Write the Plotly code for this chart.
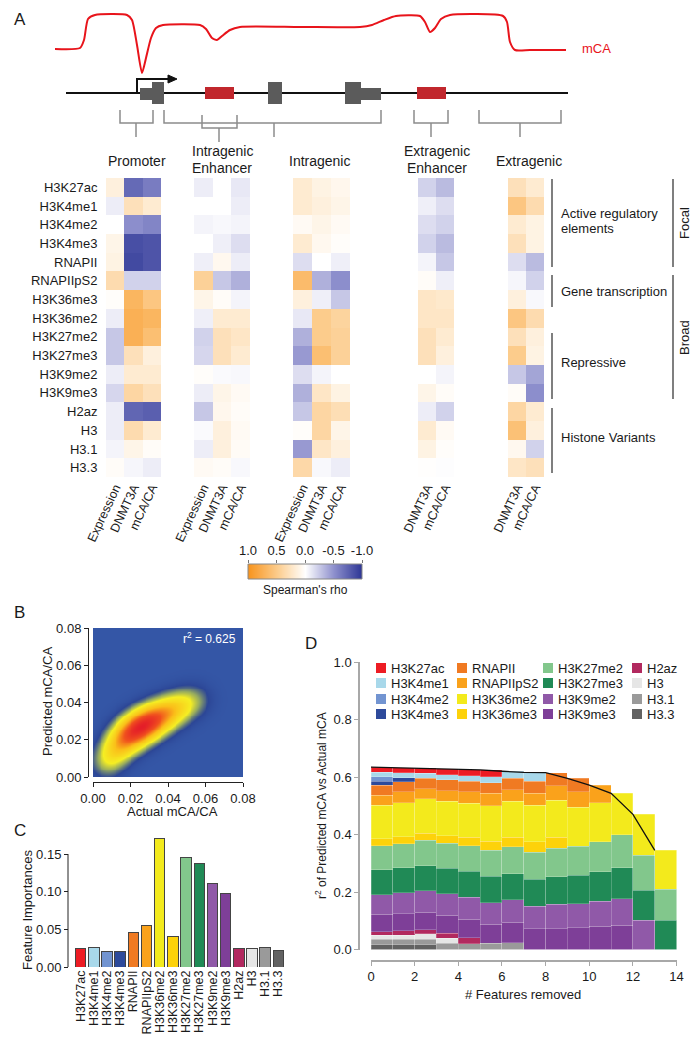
import numpy as np
import plotly.graph_objects as go

W, H = 700, 1050
FONT = "Arial, Liberation Sans, Helvetica, sans-serif"


def px(x):
    return x / W


def py(y):
    return 1 - y / H


# ---------------- Panel A : Spearman correlation heatmaps ----------------
rows_a = ["H3K27ac", "H3K4me1", "H3K4me2", "H3K4me3", "RNAPII", "RNAPIIpS2",
          "H3K36me3", "H3K36me2", "H3K27me2", "H3K27me3", "H3K9me2", "H3K9me3",
          "H2az", "H3", "H3.1", "H3.3"]
cols3 = ["Expression", "DNMT3A", "mCA/CA"]
cols2 = ["DNMT3A", "mCA/CA"]

prom_expression = [0.15, -0.08, 0.0, 0.1, 0.12, 0.35, 0.02, -0.08, -0.25, -0.25, -0.08, -0.18, -0.08, -0.08, -0.05, 0.03]
prom_dnmt3a = [-0.7, 0.3, -0.5, -0.85, -0.88, -0.2, 0.7, 0.75, 0.75, 0.3, 0.2, 0.4, -0.72, 0.35, 0.1, -0.04]
prom_mca = [-0.6, 0.2, -0.55, -0.82, -0.82, -0.2, 0.55, 0.7, 0.62, 0.15, 0.2, 0.3, -0.76, 0.2, 0.03, -0.08]

ienh_expression = [-0.08, 0.0, -0.05, 0.0, -0.07, 0.45, 0.1, -0.07, -0.2, -0.18, 0.02, -0.08, -0.25, -0.02, -0.08, 0.05]
ienh_dnmt3a = [0.0, 0.0, -0.03, -0.07, 0.07, -0.25, 0.03, 0.2, 0.3, 0.3, -0.02, 0.1, 0.08, 0.15, 0.15, 0.03]
ienh_mca = [-0.1, -0.08, -0.05, -0.15, -0.08, -0.35, -0.05, 0.2, 0.25, 0.2, -0.03, 0.05, 0.03, 0.05, 0.04, -0.03]

intra_expression = [0.2, 0.2, 0.05, 0.2, -0.15, 0.65, 0.15, -0.1, -0.35, -0.45, -0.15, -0.35, -0.25, 0.02, -0.45, 0.38]
intra_dnmt3a = [0.12, 0.15, 0.1, 0.07, 0.0, -0.35, -0.07, 0.5, 0.5, 0.62, -0.05, 0.25, 0.4, 0.4, 0.25, -0.03]
intra_mca = [0.08, 0.1, 0.05, 0.02, -0.07, -0.5, -0.25, 0.42, 0.45, 0.45, 0.0, 0.12, 0.32, 0.1, 0.15, -0.08]

eenh_dnmt3a = [-0.2, -0.07, -0.15, -0.2, -0.05, 0.03, 0.25, 0.25, 0.3, 0.3, 0.0, 0.1, -0.08, 0.2, 0.12, 0.01]
eenh_mca = [-0.3, -0.15, -0.2, -0.3, -0.25, -0.07, 0.22, 0.25, 0.2, 0.15, -0.05, 0.03, -0.2, 0.05, 0.02, -0.01]

extra_dnmt3a = [0.3, 0.55, 0.2, 0.3, -0.15, -0.04, 0.15, 0.55, 0.3, 0.5, -0.25, 0.03, 0.4, 0.6, 0.07, 0.25]
extra_mca = [0.2, 0.35, 0.12, 0.12, -0.3, -0.2, -0.03, 0.35, 0.15, 0.12, -0.4, -0.5, 0.2, 0.15, -0.2, 0.3]

cbar_ticks = [1.0, 0.5, 0.0, -0.5, -1.0]
cbar_text = ["1.0", "0.5", "0.0", "-0.5", "-1.0"]

# schematic (pixel space of the figure)
mca_x = [55, 80, 84, 88, 95, 127, 132, 137, 142, 146, 151, 156, 163, 200, 206, 212, 217, 222, 230, 240,
         300, 360, 372, 384, 396, 420, 425, 430, 435, 441, 450, 503, 507, 510, 515, 530, 566]
mca_y = [49, 48, 40, 19, 15, 15, 20, 45, 73, 58, 38, 28, 25, 25, 29, 38, 40, 36, 30, 27,
         27, 27, 25, 20, 16, 16, 22, 32, 28, 19, 15, 16, 22, 42, 50, 50, 50]

# ---------------- Panel B ----------------
ridge_x = [0.007, 0.012, 0.017, 0.022, 0.027, 0.032, 0.038, 0.044, 0.050, 0.056]
ridge_y = [0.008, 0.015, 0.021, 0.025, 0.028, 0.031, 0.034, 0.037, 0.040, 0.042]
ridge_w = [0.35, 0.6, 0.85, 1.0, 1.0, 0.9, 0.7, 0.5, 0.3, 0.15]
ridge_sigma = 0.0058
b_ticks = [0.0, 0.02, 0.04, 0.06, 0.08]

# ---------------- Panel C / D ----------------
features = ["H3K27ac", "H3K4me1", "H3K4me2", "H3K4me3", "RNAPII", "RNAPIIpS2", "H3K36me2", "H3K36me3",
            "H3K27me2", "H3K27me3", "H3K9me2", "H3K9me3", "H2az", "H3", "H3.1", "H3.3"]
feature_colors = ["#ED1C24", "#A8D8EA", "#7294D1", "#2D4A9B", "#F07A22", "#FAA21B", "#F3EA1C", "#FDD20A",
                  "#82C78C", "#208A56", "#9059A8", "#7E3F98", "#B2295F", "#E6E6E6", "#9A9A9A", "#626262"]
importances = [0.025, 0.026, 0.021, 0.021, 0.046, 0.055, 0.170, 0.040,
               0.146, 0.138, 0.111, 0.098, 0.024, 0.024, 0.026, 0.022]
c_ticks = [0.0, 0.05, 0.10, 0.15]

n_removed = list(range(14))
d_H3K27ac = [0.017, 0.017, 0.017, 0.020, 0.021, 0.024] + [None] * 8
d_H3K4me1 = [0.016, 0.017, 0.018, 0.018, 0.020, 0.021, 0.025, 0.030] + [None] * 6
d_H3K4me2 = [0.015] + [None] * 13
d_H3K4me3 = [0.014, 0.014] + [None] * 12
d_RNAPII = [0.035, 0.036, 0.035, 0.038, 0.037, 0.037, 0.039, 0.042, 0.045, 0.046] + [None] * 4
d_RNAPIIpS2 = [0.035, 0.038, 0.036, 0.036, 0.040, 0.043, 0.041, 0.043, 0.050, 0.054, 0.062] + [None] * 3
d_H3K36me2 = [0.116, 0.118, 0.119, 0.121, 0.118, 0.123, 0.125, 0.127, 0.130, 0.136, 0.136, 0.143, 0.142, 0.135]
d_H3K36me3 = [0.025, 0.024, 0.025, 0.026, 0.029, 0.031, 0.033, 0.036, 0.037] + [None] * 5
d_H3K27me2 = [0.084, 0.084, 0.089, 0.087, 0.089, 0.091, 0.093, 0.093, 0.100, 0.100, 0.104, 0.115, 0.122, 0.108]
d_H3K27me3 = [0.086, 0.087, 0.087, 0.088, 0.090, 0.092, 0.091, 0.094, 0.096, 0.099, 0.102, 0.108, 0.104, 0.102]
d_H3K9me2 = [0.069, 0.072, 0.075, 0.075, 0.076, 0.075, 0.079, 0.078, 0.084, 0.085, 0.087, 0.092, 0.102, None]
d_H3K9me3 = [0.060, 0.060, 0.060, 0.062, 0.065, 0.067, 0.071, 0.073, 0.073, 0.075, 0.081, 0.085, None, None]
d_H2az = [0.013, 0.015, 0.014, 0.017, 0.021] + [None] * 9
d_H3 = [0.014, 0.015, 0.019, 0.018] + [None] * 10
d_H3_1 = [0.019, 0.019, 0.020, 0.022, 0.020, 0.021, 0.023] + [None] * 7
d_H3_3 = [0.016, 0.016, 0.016] + [None] * 11
r2_line = [0.634, 0.632, 0.630, 0.628, 0.626, 0.625, 0.620, 0.616, 0.615, 0.595, 0.572, 0.543, 0.470, 0.345]
d_xticks = [0, 2, 4, 6, 8, 10, 12, 14]
d_yticks = [0.0, 0.2, 0.4, 0.6, 0.8, 1.0]

d_stack = {
    "H3K27ac": d_H3K27ac, "H3K4me1": d_H3K4me1, "H3K4me2": d_H3K4me2, "H3K4me3": d_H3K4me3,
    "RNAPII": d_RNAPII, "RNAPIIpS2": d_RNAPIIpS2, "H3K36me2": d_H3K36me2, "H3K36me3": d_H3K36me3,
    "H3K27me2": d_H3K27me2, "H3K27me3": d_H3K27me3, "H3K9me2": d_H3K9me2, "H3K9me3": d_H3K9me3,
    "H2az": d_H2az, "H3": d_H3, "H3.1": d_H3_1, "H3.3": d_H3_3,
}

# =====================================================================
fig = go.Figure()
layout = dict(
    template="none",
    width=W, height=H, margin=dict(l=0, r=0, t=0, b=0, pad=0, autoexpand=False),
    paper_bgcolor="white", plot_bgcolor="rgba(0,0,0,0)",
    font=dict(family=FONT, size=13, color="#1a1a1a"),
    showlegend=False, barmode="stack",
)
shapes = []
annotations = []

# overlay pixel axis (1)
layout["xaxis"] = dict(domain=[0, 1], range=[0, W], visible=False, fixedrange=True, automargin=False)
layout["yaxis"] = dict(domain=[0, 1], range=[H, 0], visible=False, fixedrange=True, automargin=False)

fig.add_trace(go.Scatter(x=mca_x, y=mca_y, mode="lines", hoverinfo="skip",
                         line=dict(color="#E8141B", width=2, shape="spline", smoothing=0.6),
                         xaxis="x", yaxis="y"))


def pshape(**kw):
    d = dict(xref="x", yref="y")
    d.update(kw)
    shapes.append(d)


def ptext(x, y, text, size=13, color="#1a1a1a", xanchor="center", angle=0):
    annotations.append(dict(x=x, y=y, xref="x", yref="y", text=text, showarrow=False,
                            xanchor=xanchor, yanchor="middle", textangle=angle,
                            font=dict(size=size, color=color, family=FONT)))


# gene model
pshape(type="line", x0=66, x1=568, y0=93, y1=93, line=dict(color="#111", width=2))
gray, red = "#5B5B5B", "#C1272D"
for (x0, y0, x1, y1, c) in [(140, 88, 152, 100, gray), (152, 82, 164, 104, gray), (205, 87, 234, 99, red),
                            (268, 82, 282, 104, gray), (345, 82, 361, 104, gray), (361, 88, 381, 100, gray),
                            (417, 87, 446, 99, red)]:
    pshape(type="rect", x0=x0, x1=x1, y0=y0, y1=y1, fillcolor=c, line=dict(width=0))
pshape(type="path", path="M 137 93 L 137 79 L 169 79", line=dict(color="#111", width=2))
pshape(type="path", path="M 168 75 L 177 79 L 168 83 Z", fillcolor="#111", line=dict(color="#111", width=1))
# brackets
for (x0, x1, xc, yt, yb) in [(120, 153, 136, 110, 123), (164, 381, 274, 110, 123), (202, 237, 219, 115, 128),
                             (414, 448, 431, 110, 123), (479, 561, 520, 110, 123)]:
    pshape(type="path", path=f"M {x0} {yt} L {x0} {yb} L {x1} {yb} L {x1} {yt}",
           line=dict(color="#8C8C8C", width=1.5))
    pshape(type="line", x0=xc, x1=xc, y0=yb, y1=yb + 14, line=dict(color="#8C8C8C", width=1.5))
ptext(580, 48, "mCA", size=13, color="#E8141B", xanchor="left")

# region headers
ptext(137, 161, "Promoter", size=14)
ptext(222, 151, "Intragenic", size=14)
ptext(222, 168, "Enhancer", size=14)
ptext(319, 161, "Intragenic", size=14)
ptext(437, 151, "Extragenic", size=14)
ptext(437, 168, "Enhancer", size=14)
ptext(529, 161, "Extragenic", size=14)

# right annotations
for (x, y0, y1) in [(552, 179, 267), (552, 275, 307), (552, 333, 399), (552, 408, 473),
                    (673, 179, 267), (673, 275, 399)]:
    pshape(type="line", x0=x, x1=x, y0=y0, y1=y1, line=dict(color="#555", width=1.5))
ptext(559, 213, "Active regulatory", xanchor="left")
ptext(559, 228, "elements", xanchor="left")
ptext(559, 291, "Gene transcription", xanchor="left")
ptext(559, 362, "Repressive", xanchor="left")
ptext(559, 437, "Histone Variants", xanchor="left")
ptext(684, 223, "Focal", angle=-90)
ptext(684, 338, "Broad", angle=-90)

# panel letters
ptext(12, 19, "A", size=17, xanchor="left")
ptext(12, 612, "B", size=17, xanchor="left")
ptext(12, 830, "C", size=17, xanchor="left")
ptext(303, 643, "D", size=17, xanchor="left")

# heatmaps
rho_scale = [[0.0, "rgb(43,52,148)"], [0.25, "rgb(140,142,204)"], [0.5, "rgb(255,255,255)"],
             [0.75, "rgb(252,204,140)"], [1.0, "rgb(247,148,30)"]]
regions = [
    ([prom_expression, prom_dnmt3a, prom_mca], cols3, 106, 161),
    ([ienh_expression, ienh_dnmt3a, ienh_mca], cols3, 194, 250),
    ([intra_expression, intra_dnmt3a, intra_mca], cols3, 293, 350),
    ([eenh_dnmt3a, eenh_mca], cols2, 418, 454),
    ([extra_dnmt3a, extra_mca], cols2, 508, 544),
]
for i, (cols, names, x0, x1) in enumerate(regions):
    k = i + 2
    z = np.array(cols).T
    fig.add_trace(go.Heatmap(z=z, x=names, y=rows_a, colorscale=rho_scale, zmin=-1, zmax=1,
                             showscale=False, xaxis=f"x{k}", yaxis=f"y{k}", hoverinfo="skip"))
    layout[f"xaxis{k}"] = dict(domain=[px(x0), px(x1)], anchor=f"y{k}", tickangle=-65,
                               tickfont=dict(size=12.5), showgrid=False, zeroline=False, showline=False,
                               ticks="", fixedrange=True, automargin=False)
    layout[f"yaxis{k}"] = dict(domain=[py(477), py(178)], anchor=f"x{k}", autorange="reversed",
                               showticklabels=(k == 2), tickfont=dict(size=13), showgrid=False,
                               zeroline=False, showline=False, ticks="outside", ticklen=5,
                               tickcolor="rgba(0,0,0,0)", fixedrange=True, automargin=False)

# colour bar strip (7)
fig.add_trace(go.Heatmap(z=[cbar_ticks, cbar_ticks], x=cbar_ticks, y=[0, 1], colorscale=rho_scale,
                         zmin=-1, zmax=1, zsmooth="best", showscale=False, xaxis="x7", yaxis="y7",
                         hoverinfo="skip"))
layout["xaxis7"] = dict(domain=[px(248), px(362)], range=[1, -1], anchor="y7", side="top",
                        tickvals=cbar_ticks, ticktext=cbar_text, ticks="outside", ticklen=3,
                        tickcolor="#777", tickfont=dict(size=13), showgrid=False, zeroline=False,
                        showline=False, fixedrange=True, automargin=False)
layout["yaxis7"] = dict(domain=[py(579), py(564)], range=[0, 1], anchor="x7", visible=False,
                        fixedrange=True, automargin=False)
shapes.append(dict(type="rect", xref="paper", yref="paper", x0=px(248), x1=px(362), y0=py(579), y1=py(564),
                   line=dict(color="#888", width=1)))
ptext(305, 590, "Spearman's rho", size=12)

# ---------------- Panel B (8) ----------------
gx = np.linspace(0, 0.08, 161)
gy = np.linspace(0, 0.08, 161)
GX, GY = np.meshgrid(gx, gy)
dens = np.zeros_like(GX)
for x0, y0, w in zip(ridge_x, ridge_y, ridge_w):
    dens += w * np.exp(-((GX - x0) ** 2 + (GY - y0) ** 2) / (2 * ridge_sigma ** 2))
dens = dens / dens.max()
b_scale = [[0.0, "rgb(52,86,166)"], [0.06, "rgb(44,70,150)"], [0.15, "rgb(150,170,95)"],
           [0.25, "rgb(245,238,35)"], [0.5, "rgb(250,190,25)"], [0.75, "rgb(240,80,30)"],
           [1.0, "rgb(228,30,40)"]]
fig.add_trace(go.Heatmap(z=dens, x=gx, y=gy, colorscale=b_scale, zmin=0, zmax=1, zsmooth="best",
                         showscale=False, xaxis="x8", yaxis="y8", hoverinfo="skip"))
axis_common = dict(showgrid=False, zeroline=False, showline=True, linecolor="#222", linewidth=1,
                   ticks="outside", ticklen=4, tickcolor="#222", tickfont=dict(size=13), fixedrange=True,
                   automargin=False)
layout["xaxis8"] = dict(domain=[px(93), px(243)], range=[0, 0.08], anchor="free", position=py(782),
                        tickvals=b_ticks, tickformat=".2f", **axis_common)
layout["yaxis8"] = dict(domain=[py(777), py(628)], range=[0, 0.08], anchor="free", position=px(88),
                        tickvals=b_ticks, tickformat=".2f", **axis_common)
ptext(238, 638, "r<sup>2</sup> = 0.625", size=12, color="white", xanchor="right")
ptext(172, 811, "Actual mCA/CA", size=13)
ptext(47, 702, "Predicted mCA/CA", size=13, angle=-90)

# ---------------- Panel C (9) ----------------
fig.add_trace(go.Bar(x=features, y=importances, marker=dict(color=feature_colors, line=dict(color="#444", width=1)),
                     width=0.8, xaxis="x9", yaxis="y9", hoverinfo="skip"))
layout["xaxis9"] = dict(domain=[px(74), px(285)], anchor="y9", tickangle=-90, tickfont=dict(size=12.5),
                        tickmode="array", tickvals=features, ticktext=features,
                        showgrid=False, zeroline=False, showline=False, ticks="", fixedrange=True,
                        automargin=False)
layout["yaxis9"] = dict(domain=[py(967), py(831.4)], range=[0, 0.18], anchor="free", position=px(68),
                        tickvals=c_ticks, tickformat=".2f", showgrid=False, zeroline=False, showline=False,
                        ticks="outside", ticklen=4, tickcolor="#222", tickfont=dict(size=13), fixedrange=True,
                        automargin=False)
shapes.append(dict(type="line", xref="paper", yref="y9", x0=px(68), x1=px(68), y0=0, y1=0.15,
                   line=dict(color="#222", width=1)))
ptext(27, 910, "Feature Importances", size=13, angle=-90)

# ---------------- Panel D (10) ----------------
color_of = dict(zip(features, feature_colors))
for f in reversed(features):
    fig.add_trace(go.Bar(x=n_removed, y=d_stack[f], width=1, offset=0,
                         marker=dict(color=color_of[f], line=dict(color="rgba(255,255,255,0.35)", width=0.6)),
                         xaxis="x10", yaxis="y10", hoverinfo="skip"))
fig.add_trace(go.Scatter(x=n_removed, y=r2_line, mode="lines", line=dict(color="#111", width=1.3),
                         xaxis="x10", yaxis="y10", hoverinfo="skip"))
d_axis = dict(showgrid=False, zeroline=False, showline=True, linecolor="#A8A8A8", linewidth=1.5,
              ticks="outside", ticklen=4, tickcolor="#A8A8A8", tickfont=dict(size=13), fixedrange=True,
              automargin=False)
layout["xaxis10"] = dict(domain=[px(371), px(676.6)], range=[0, 14], anchor="free", position=py(961),
                         tickvals=d_xticks, **d_axis)
layout["yaxis10"] = dict(domain=[py(949.5), py(662)], range=[0, 1], anchor="free", position=px(359),
                         tickvals=d_yticks, tickformat=".1f", **d_axis)
ptext(523, 994, "# Features removed", size=13)
ptext(321, 806, "r<sup>2</sup> of Predicted mCA vs Actual mCA", size=12, angle=-90)

# manual legend (4 columns x 4 rows)
leg_cols = [376, 457, 543, 632]
leg_rows = [668, 683, 699, 714]
for i, f in enumerate(features):
    cx = leg_cols[i // 4]
    cy = leg_rows[i % 4]
    pshape(type="rect", x0=cx, x1=cx + 10, y0=cy - 5, y1=cy + 5, fillcolor=color_of[f], line=dict(width=0))
    ptext(cx + 13, cy, f, size=13, xanchor="left")

layout["shapes"] = shapes
layout["annotations"] = annotations
fig.update_layout(**layout)
fig.write_html("out.html", config={"displayModeBar": False},
               post_script="document.body.style.margin='0';document.body.style.overflow='hidden';")
